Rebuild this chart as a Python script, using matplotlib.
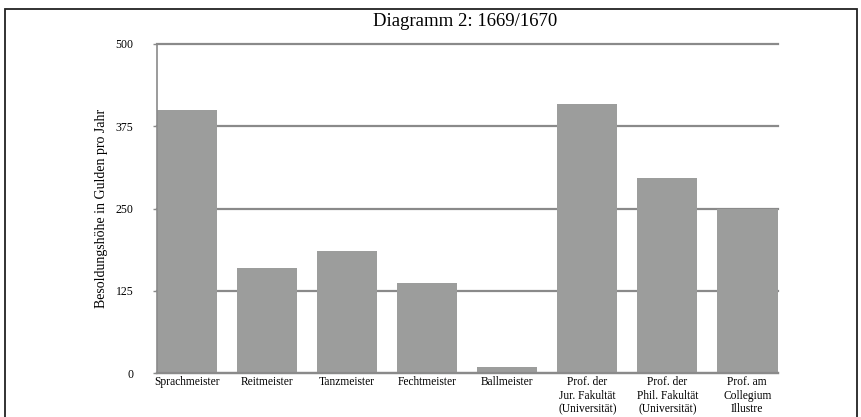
import numpy as np
import matplotlib
matplotlib.use("Agg")
import matplotlib.pyplot as plt
from matplotlib.patches import Rectangle

# Daten
kategorien = ["Sprachmeister", "Reitmeister", "Tanzmeister", "Fechtmeister",
              "Ballmeister", "Prof. der\nJur. Fakultät\n(Universität)",
              "Prof. der\nPhil. Fakultät\n(Universität)",
              "Prof. am\nCollegium\nIllustre"]
besoldung = [400, 160, 185, 137, 9, 409, 296, 250]
yticks = [0, 125, 250, 375, 500]

plt.rcParams['font.family'] = ['Liberation Serif', 'DejaVu Serif']

W, H = 861, 417
fig = plt.figure(figsize=(W / 100, H / 100), dpi=100)
ax = fig.add_axes([157 / W, 1 - 373 / H, (777.5 - 157) / W, (373 - 44) / H])

breite = 0.756
x = np.arange(len(kategorien))
ax.bar(x, besoldung, width=breite, color='#9c9d9c', zorder=2)

ax.set_ylim(0, 500)
ax.set_xlim(-breite / 2, len(kategorien) - 1 + breite / 2)
ax.set_yticks(yticks)
ax.set_yticklabels([str(t) for t in yticks], fontsize=8.5)
ax.set_xticks(x)
ax.set_xticklabels(kategorien, fontsize=8.3, linespacing=1.2)
ax.tick_params(axis='x', length=0, pad=2)
ax.tick_params(axis='y', length=3, width=1, color='#8a8a8a', pad=14)

ax.yaxis.grid(True, color='#8a8a8a', linewidth=1.6, zorder=1)
for gl in ax.get_ygridlines():
    gl.set_clip_on(False)
for s in ['top', 'right']:
    ax.spines[s].set_visible(False)
ax.spines['left'].set_color('#8a8a8a')
ax.spines['left'].set_linewidth(1.2)
ax.spines['bottom'].set_color('#8a8a8a')
ax.spines['bottom'].set_linewidth(1.6)

ax.set_ylabel('Besoldungshöhe in Gulden pro Jahr', fontsize=10, labelpad=5)
fig.text(465 / W, 1 - 21 / H, 'Diagramm 2: 1669/1670', ha='center', va='center', fontsize=13.5)

# Rahmen
fig.patches.append(Rectangle((5 / W, -0.1), (857 - 5) / W, 1.1 - 8.5 / H,
                             transform=fig.transFigure, fill=False,
                             edgecolor='#222222', linewidth=1.3))

fig.savefig('out.png', dpi=100)
